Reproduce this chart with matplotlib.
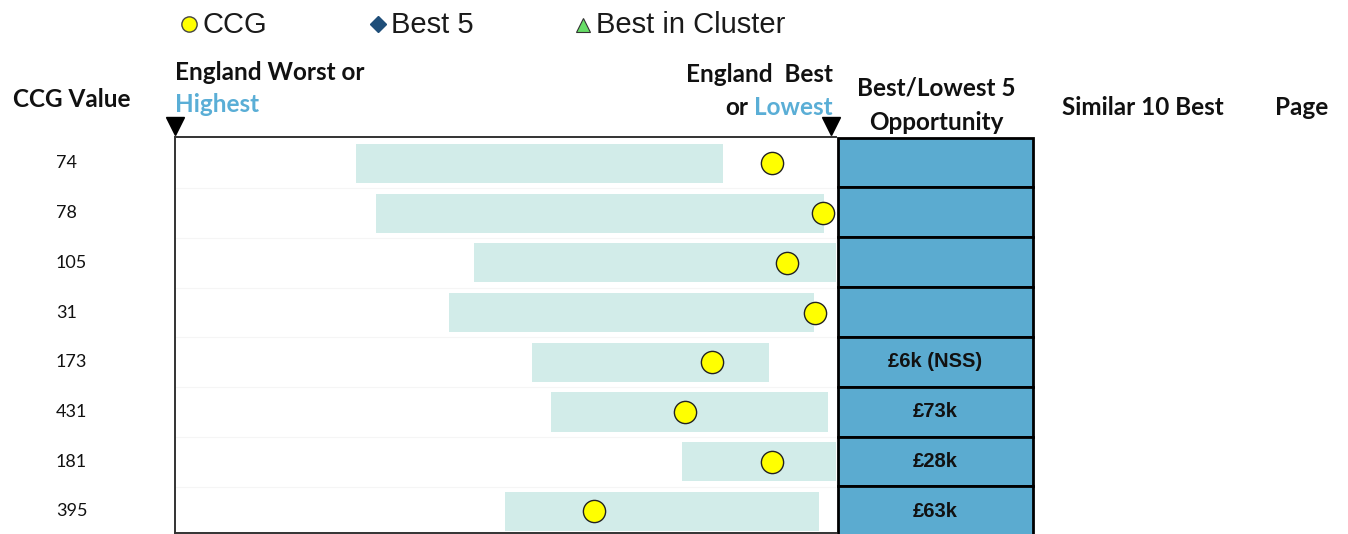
import matplotlib
matplotlib.use("Agg")
import matplotlib.pyplot as plt
import matplotlib.transforms as mtransforms
import numpy as np

# ---- data ----
ccg_values = ["74", "78", "105", "31", "173", "431", "181", "395"]
range_low = [27.4, 30.4, 45.2, 41.5, 54.0, 56.9, 76.7, 49.9]
range_high = [82.9, 98.2, 100.0, 96.7, 89.9, 98.8, 100.0, 97.4]
ccg_point = [90.3, 98.0, 92.6, 96.8, 81.3, 77.2, 90.3, 63.4]
opportunity = ["", "", "", "", "£6k (NSS)", "£73k", "£28k", "£63k"]

W, H = 1348, 534
fig = plt.figure(figsize=(W / 100, H / 100), dpi=100)
fig.patch.set_facecolor("white")

def fx(px):
    return px / W

def fy(py):
    return (H - py) / H

BAR_C = "#D2ECE9"
BLUE = "#5BABD0"
LBLUE = "#5AAED6"
TXT = "#111111"

n = len(ccg_values)
ypos = np.arange(n)
row_h = 49.7
row0_c = 163.5
top_px, bot_px = 137, 533
ylim_top = -(row0_c - top_px) / row_h
ylim_bot = (bot_px - row0_c) / row_h

main_ax = fig.add_axes([fx(175), fy(bot_px), fx(836) - fx(175), fy(top_px) - fy(bot_px)])
main_ax.set_xlim(0, 100)
main_ax.set_ylim(ylim_bot, ylim_top)
widths = [h - l for l, h in zip(range_low, range_high)]
main_ax.barh(ypos, widths, left=range_low, height=0.785, color=BAR_C, zorder=2)
for b in np.arange(0.5, n - 0.5, 1):
    main_ax.axhline(b, color="#f5f5f5", lw=0.8, zorder=1)
main_ax.plot(ccg_point, ypos, "o", ms=16, mfc="#FFFF00", mec="#222222", mew=1.0, zorder=4, clip_on=False)
main_ax.set_xticks([])
main_ax.set_yticks([])
for s in ["left", "top", "bottom"]:
    main_ax.spines[s].set_color("#333333")
    main_ax.spines[s].set_linewidth(1.4)
main_ax.spines["right"].set_visible(False)

# triangles above the axis ends
trans = mtransforms.blended_transform_factory(main_ax.transData, main_ax.transAxes)
main_ax.plot([0, 99.2], [1 + 11 / (bot_px - top_px)] * 2, "v", ms=13, color="black",
             transform=trans, clip_on=False, zorder=5)

# opportunity panel
pan_top = 137.5
pan_ax = fig.add_axes([fx(838), fy(bot_px), fx(1033) - fx(838), fy(pan_top) - fy(bot_px)])
pan_ax.set_xlim(0, 1)
pan_ax.set_ylim(ylim_bot, -0.5)
pan_ax.barh(ypos, [1] * n, left=0, height=1.0, color=BLUE, edgecolor="black", linewidth=2.0, clip_on=False)
for y, t in zip(ypos, opportunity):
    if t:
        pan_ax.text(0.5, y, t, ha="center", va="center", fontsize=14.5, fontweight="bold",
                    family="Liberation Sans", color=TXT)
pan_ax.axis("off")

# CCG values
for y, v in zip(ypos, ccg_values):
    py = row0_c + y * row_h
    fig.text(fx(56), fy(py), v, ha="left", va="center", fontsize=13, family="Lato", color=TXT)

# headers
hdr = dict(fontsize=17.5, fontweight="bold", family="Lato", color=TXT, va="baseline")
fig.text(fx(13), fy(107), "CCG Value", ha="left", **hdr)
fig.text(fx(175), fy(80), "England Worst or", ha="left", **hdr)
fig.text(fx(175), fy(112), "Highest", ha="left", **{**hdr, "color": LBLUE})
fig.text(fx(833), fy(82), "England  Best", ha="right", **hdr)
t_low = fig.text(fx(833), fy(115), "Lowest", ha="right", **{**hdr, "color": LBLUE})
fig.canvas.draw()
bb = t_low.get_window_extent(renderer=fig.canvas.get_renderer())
fig.text(bb.x0 / W - 6 / W, fy(115), "or", ha="right", **hdr)
fig.text(fx(936), fy(96), "Best/Lowest 5", ha="center", **hdr)
fig.text(fx(936), fy(130), "Opportunity", ha="center", **hdr)
fig.text(fx(1062), fy(115), "Similar 10 Best", ha="left", **hdr)
fig.text(fx(1275), fy(115), "Page", ha="left", **hdr)

# legend
leg = dict(fontsize=21, family="Liberation Sans", color="#1a1a1a", va="baseline", ha="left")
lax = fig.add_axes([0, 0, 1, 1], facecolor="none")
lax.set_xlim(0, W)
lax.set_ylim(H, 0)
lax.axis("off")
lax.plot([189], [24], "o", ms=11, mfc="#FFFF00", mec="#444444", mew=1.0)
lax.plot([378], [24], "D", ms=8.5, mfc="#1F4E79", mec="#1F4E79")
lax.plot([583], [25], "^", ms=10, mfc="#66DD66", mec="#333333", mew=0.8)
lax.text(203, 33, "CCG", **leg)
lax.text(391, 33, "Best 5", **leg)
lax.text(596, 33, "Best in Cluster", **leg)

fig.savefig("out.png", dpi=100)
